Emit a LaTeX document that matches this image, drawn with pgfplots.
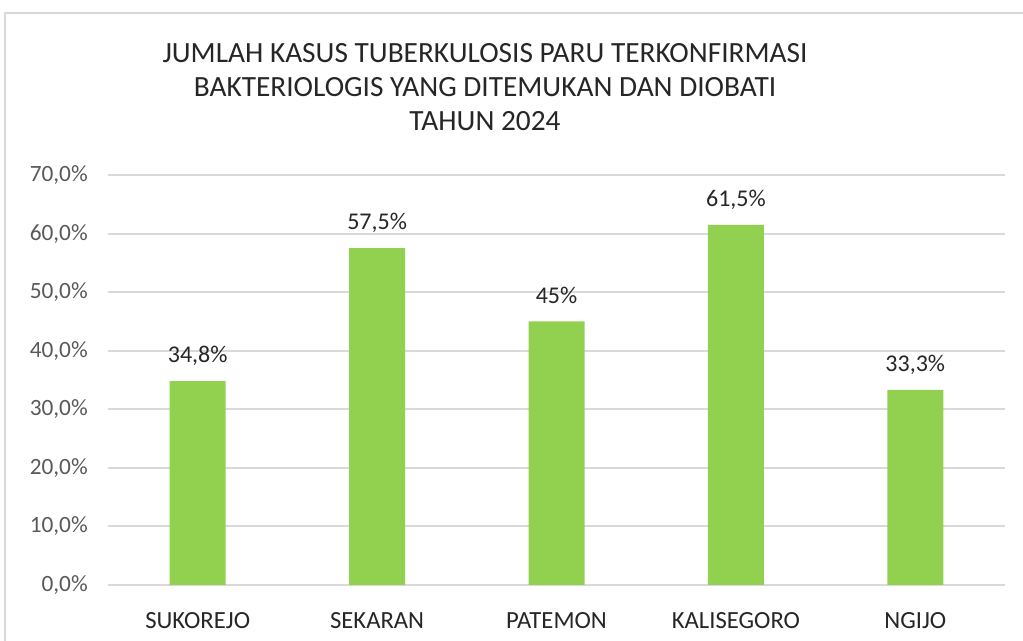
\documentclass[border=0pt]{standalone}
\usepackage{fontspec}
\setmainfont{Carlito}
\usepackage{pgfplots}
\pgfplotsset{compat=1.18}
\definecolor{bargreen}{HTML}{92D050}
\definecolor{gridgray}{HTML}{D9D9D9}
\definecolor{ticktext}{HTML}{595959}
\definecolor{labeltext}{HTML}{262626}
\begin{document}
\begin{tikzpicture}[x=0.75pt,y=0.75pt]
\path[use as bounding box, clip] (0,0) rectangle (1023,641);
\draw[gridgray, line width=1.5pt] (5,-20) rectangle (1040,628);
\node[align=center, text=labeltext, font=\fontsize{22}{25.5}\selectfont] at (485,554)
  {JUMLAH KASUS TUBERKULOSIS PARU TERKONFIRMASI\\BAKTERIOLOGIS YANG DITEMUKAN DAN DIOBATI\\TAHUN 2024};
\begin{axis}[
  at={(81pt,42pt)}, anchor=south west,
  scale only axis, width=672.75pt, height=307.5pt,
  xmin=-0.5, xmax=4.5, ymin=0, ymax=70,
  ybar, bar width=42pt,
  xtick={0,1,2,3,4},
  xticklabels={SUKOREJO,SEKARAN,PATEMON,KALISEGORO,NGIJO},
  ytick={0,10,...,70},
  /pgf/number format/assume math mode=true,
  yticklabel={\pgfmathprintnumber[fixed,fixed zerofill,precision=1,use comma,assume math mode=true]{\tick}\%},
  ymajorgrids, grid style={gridgray, line width=1.5pt},
  axis line style={draw=none},
  tick style={draw=none},
  yticklabel style={font=\fontsize{17.5}{20}\selectfont, text=ticktext, inner sep=0pt, xshift=-15pt},
  xticklabel style={font=\fontsize{18.5}{20}\selectfont, text=labeltext, inner sep=0pt, anchor=north, yshift=-16pt},
  point meta=explicit symbolic,
  nodes near coords,
  every node near coord/.append style={font=\fontsize{18}{20}\selectfont, text=labeltext, anchor=south, inner sep=0pt, text depth=0pt, yshift=13.5pt},
]
\addplot[fill=bargreen, draw=none] coordinates {
  (0,34.8) [34,8\%]
  (1,57.5) [57,5\%]
  (2,45.0) [45\%]
  (3,61.5) [61,5\%]
  (4,33.3) [33,3\%]
};
\end{axis}
\end{tikzpicture}
\end{document}
